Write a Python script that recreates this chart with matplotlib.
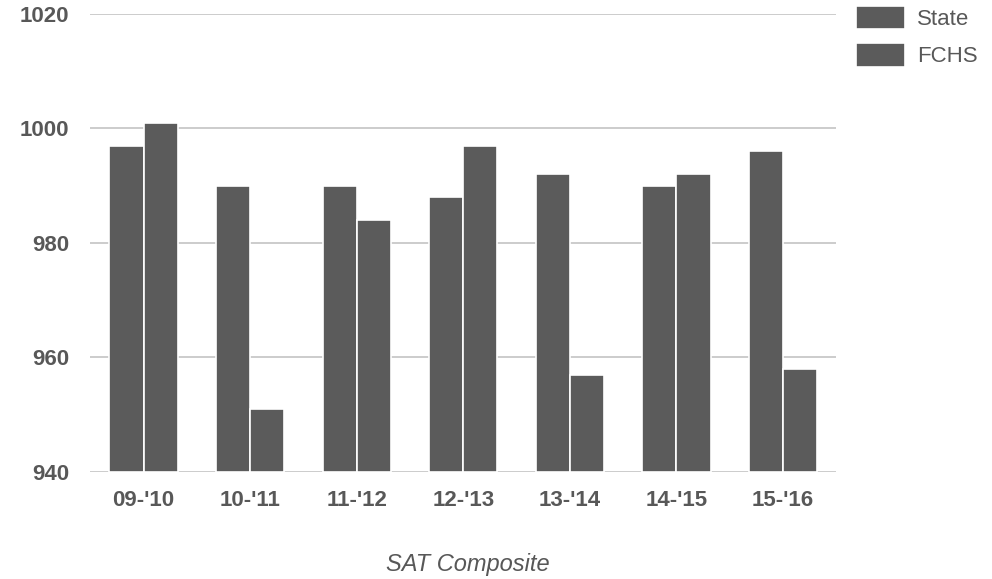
import matplotlib
matplotlib.use("Agg")
import matplotlib.pyplot as plt
import numpy as np

plt.rcParams.update({
    "font.family": ["Liberation Sans", "DejaVu Sans"],
    "font.size": 16,
})

# SAT composite scores by school year
years = ["09-'10", "10-'11", "11-'12", "12-'13", "13-'14", "14-'15", "15-'16"]
state = [997, 990, 990, 988, 992, 990, 996]
fchs = [1001, 951, 984, 997, 957, 992, 958]

BAR = "#5b5b5b"
TXT = "#585858"

fig = plt.figure(figsize=(9.92, 5.79), dpi=100)
ax = fig.add_axes([0.091, 0.185, 0.752, 0.791])

x = np.arange(len(years))
w = 0.32
ax.bar(x - w / 2, np.array(state) - 940, w, bottom=940, color=BAR,
       edgecolor="white", linewidth=1.2, label="State", zorder=3)
ax.bar(x + w / 2, np.array(fchs) - 940, w, bottom=940, color=BAR,
       edgecolor="white", linewidth=1.2, label="FCHS", zorder=3)

ax.set_ylim(940, 1020)
ax.set_xlim(-0.5, len(years) - 0.5)
ax.set_yticks([940, 960, 980, 1000, 1020])
ax.set_xticks(x)
ax.set_xticklabels(years)
ax.tick_params(length=0, colors=TXT, labelsize=16)
for lab in ax.get_xticklabels() + ax.get_yticklabels():
    lab.set_fontweight("bold")
ax.tick_params(axis="y", pad=15)
ax.tick_params(axis="x", pad=13)
ax.grid(axis="y", color="#c8c8c8", linewidth=1.3, zorder=0)
for s in ax.spines.values():
    s.set_visible(False)

fig.text(0.472, 0.005, "SAT Composite", ha="center", va="bottom",
         fontsize=17, style="italic", color=TXT)

ax.legend(loc="upper left", bbox_to_anchor=(0.843, 1.025),
          bbox_transform=fig.transFigure, frameon=False,
          handlelength=2.2, handleheight=1.25, labelspacing=0.6,
          handletextpad=0.55, labelcolor=TXT, fontsize=16)

fig.savefig("out.png", dpi=100)
